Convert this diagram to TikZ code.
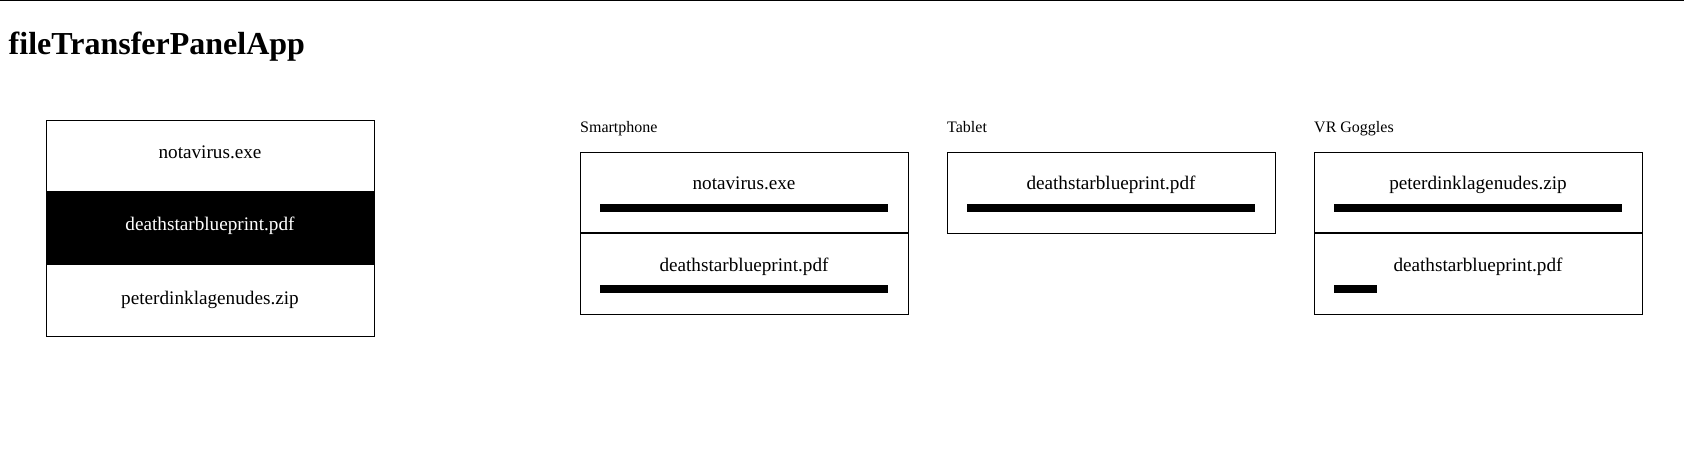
\documentclass[tikz,border=0pt]{standalone}
\usepackage{fontspec}
\setmainfont{Liberation Serif}
\begin{document}
\begin{tikzpicture}[x=1pt,y=-1pt,
  panel/.style={draw=black, line width=1pt, anchor=north west, inner sep=0pt, minimum width=328},
  itemtxt/.style={anchor=base, inner sep=0pt, font=\fontsize{19.2}{23}\selectfont},
  devlabel/.style={anchor=base west, inner sep=0pt, font=\fontsize{16}{19}\selectfont},
  bar/.style={fill=black, draw=none, anchor=north west, inner sep=0pt, minimum height=8.5},
  divider/.style={line width=2pt}]
\useasboundingbox (0,0) rectangle (1684,452);
% top rule
\coordinate (tl) at (0,0.6);
\coordinate (tr) at (1684,0.6);
\draw[line width=1.2pt] (tl) -- (tr);
% title
\node[anchor=base west, inner sep=0pt, font=\fontsize{32}{38}\selectfont\bfseries] (title) at (8.5,55) {fileTransferPanelApp};

% left list
\fill[black] (46,191) rectangle (374,265);
\node[panel, minimum height=216] (list) at (46,120) {};
\node[itemtxt] (l1) at (210,158.5) {notavirus.exe};
\node[itemtxt, text=white] (l2) at (210,230) {deathstarblueprint.pdf};
\node[itemtxt] (l3) at (210,304) {peterdinklagenudes.zip};

% Smartphone
\node[devlabel] (sp) at (580,132.5) {Smartphone};
\node[panel, minimum height=161.5] (spbox) at (580,152) {};
\coordinate (spdl) at (580,232.7);
\coordinate (spdr) at (908,232.7);
\draw[divider] (spdl) -- (spdr);
\node[itemtxt] (sp1) at (744,189.5) {notavirus.exe};
\node[bar, minimum width=288] (spb1) at (600,203.5) {};
\node[itemtxt] (sp2) at (744,271) {deathstarblueprint.pdf};
\node[bar, minimum width=288] (spb2) at (600,284.5) {};

% Tablet
\node[devlabel] (tb) at (947,132.5) {Tablet};
\node[panel, minimum height=80.5] (tbbox) at (947,152) {};
\node[itemtxt] (tb1) at (1111,189.5) {deathstarblueprint.pdf};
\node[bar, minimum width=288] (tbb1) at (967,203.5) {};

% VR Goggles
\node[devlabel] (vr) at (1314,132.5) {VR Goggles};
\node[panel, minimum height=161.5] (vrbox) at (1314,152) {};
\coordinate (vrdl) at (1314,232.7);
\coordinate (vrdr) at (1642,232.7);
\draw[divider] (vrdl) -- (vrdr);
\node[itemtxt] (vr1) at (1478,189.5) {peterdinklagenudes.zip};
\node[bar, minimum width=288] (vrb1) at (1334,203.5) {};
\node[itemtxt] (vr2) at (1478,271) {deathstarblueprint.pdf};
\node[bar, minimum width=43] (vrb2) at (1334,284.5) {};
\end{tikzpicture}
\end{document}
